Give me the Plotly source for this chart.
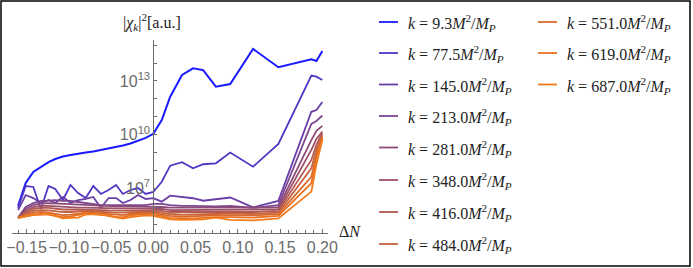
import numpy as np
import plotly.graph_objects as go

# ---------------- data ----------------
delta_N = [-0.160, -0.151, -0.142, -0.133, -0.124, -0.116, -0.107, -0.098, -0.089,
           -0.080, -0.071, -0.062, -0.053, -0.044, -0.036, -0.027, -0.018, -0.009,
           0.000, 0.010, 0.020, 0.034, 0.047, 0.059, 0.074, 0.091, 0.118, 0.148,
           0.187, 0.193, 0.200]

k_values = [9.3, 77.5, 145.0, 213.0, 281.0, 348.0, 416.0, 484.0, 551.0, 619.0, 687.0]

# log10 |chi_k|^2 for each k
log_chi_k9_3 = [6.02, 7.30, 7.92, 8.20, 8.47, 8.64, 8.78, 8.87, 8.95, 9.01, 9.06, 9.15, 9.20,
                9.31, 9.40, 9.51, 9.65, 9.82, 10.05, 10.82, 12.12, 13.34, 13.71, 13.61, 12.68,
                12.83, 14.79, 13.77, 14.21, 14.12, 14.68]
log_chi_k77_5 = [5.90, 7.13, 7.08, 5.85, 7.13, 6.97, 6.35, 7.19, 6.74, 6.46, 7.13, 6.69, 6.91,
                 7.19, 6.69, 6.91, 7.02, 6.69, 6.80, 7.37, 8.27, 8.46, 8.12, 8.35, 8.40, 9.00,
                 8.21, 9.48, 13.30, 13.24, 13.06]
log_chi_k145 = [5.79, 6.63, 6.46, 6.18, 6.35, 6.18, 6.52, 6.18, 6.35, 6.41, 6.52, 5.90, 6.46,
                6.46, 6.18, 6.35, 6.63, 6.41, 6.46, 6.26, 6.59, 6.50, 6.45, 6.31, 6.39, 6.49,
                5.94, 6.30, 11.28, 11.38, 11.83]
log_chi_k213 = [5.37, 5.96, 6.18, 6.30, 6.32, 6.35, 6.30, 6.30, 6.24, 6.18, 6.13, 6.07, 6.07,
                6.07, 6.07, 6.07, 6.07, 6.07, 6.13, 6.13, 6.07, 6.02, 6.02, 5.99, 5.99, 6.02,
                5.91, 6.07, 10.60, 10.77, 11.07]
log_chi_k281 = [5.35, 5.85, 6.07, 6.16, 6.18, 6.16, 6.13, 6.10, 6.07, 6.05, 6.02, 6.02, 5.99,
                5.99, 5.99, 5.99, 5.99, 5.99, 5.99, 5.96, 5.93, 5.93, 5.91, 5.91, 5.91, 5.91,
                5.91, 5.94, 9.70, 10.21, 10.49]
log_chi_k348 = [5.35, 5.74, 5.96, 6.02, 6.02, 5.99, 5.96, 5.96, 5.93, 5.93, 5.91, 5.91, 5.91,
                5.88, 5.88, 5.88, 5.88, 5.88, 5.88, 5.85, 5.79, 5.79, 5.79, 5.79, 5.79, 5.82,
                5.79, 5.83, 9.15, 9.76, 10.17]
log_chi_k416 = [5.35, 5.65, 5.85, 5.91, 5.91, 5.85, 5.82, 5.82, 5.82, 5.79, 5.79, 5.79, 5.77,
                5.77, 5.77, 5.77, 5.77, 5.77, 5.77, 5.74, 5.68, 5.68, 5.68, 5.68, 5.68, 5.71,
                5.68, 5.74, 8.59, 9.43, 10.08]
log_chi_k484 = [5.35, 5.57, 5.74, 5.79, 5.77, 5.71, 5.68, 5.68, 5.71, 5.74, 5.71, 5.68, 5.68,
                5.65, 5.65, 5.68, 5.68, 5.68, 5.68, 5.63, 5.57, 5.54, 5.54, 5.57, 5.57, 5.60,
                5.57, 5.64, 8.12, 9.15, 9.98]
log_chi_k551 = [5.35, 5.51, 5.63, 5.68, 5.65, 5.57, 5.51, 5.54, 5.60, 5.65, 5.63, 5.60, 5.57,
                5.51, 5.51, 5.57, 5.60, 5.60, 5.60, 5.54, 5.46, 5.43, 5.43, 5.46, 5.49, 5.51,
                5.49, 5.56, 7.65, 8.87, 9.89]
log_chi_k619 = [5.35, 5.46, 5.54, 5.57, 5.54, 5.46, 5.40, 5.43, 5.51, 5.60, 5.57, 5.54, 5.49,
                5.40, 5.40, 5.49, 5.54, 5.54, 5.51, 5.46, 5.35, 5.32, 5.32, 5.35, 5.40, 5.40,
                5.37, 5.46, 7.29, 8.59, 9.80]
log_chi_k687 = [5.35, 5.43, 5.51, 5.54, 5.57, 5.46, 5.33, 5.35, 5.37, 5.54, 5.57, 5.54, 5.46,
                5.35, 5.32, 5.40, 5.46, 5.49, 5.46, 5.35, 5.27, 5.24, 5.24, 5.27, 5.37, 5.24,
                5.21, 5.32, 6.82, 8.36, 9.70]

series_logs = [log_chi_k9_3, log_chi_k77_5, log_chi_k145, log_chi_k213, log_chi_k281,
               log_chi_k348, log_chi_k416, log_chi_k484, log_chi_k551, log_chi_k619,
               log_chi_k687]

colors = ["#1a1aff", "#5236c6", "#6a3ea8", "#7d4790", "#8c4a78", "#9e5066",
          "#b25a52", "#c4623f", "#d86a2e", "#e87222", "#f27a1a"]

x_tick_vals = [-0.15, -0.10, -0.05, 0.00, 0.05, 0.10, 0.15, 0.20]
x_tick_text = ["\u22120.15", "\u22120.10", "\u22120.05", "0.00", "0.05", "0.10", "0.15", "0.20"]
y_decades = list(range(5, 16))
y_labelled = [7, 10, 13]

# ---------------- layout geometry (pixels) ----------------
W, H = 693, 268
PL, PR, PT, PB = 12, 328, 40, 233  # plot area edges
X0_PX = 153.3                       # pixel of x = 0


def px_to_paper_x(px):
    return (px - PL) / (PR - PL)


def px_to_paper_y(py):
    return (PB - py) / (PB - PT)


fig = go.Figure()
for k, logs, col in zip(k_values, series_logs, colors):
    fig.add_trace(go.Scatter(
        x=delta_N, y=np.power(10.0, logs), mode="lines",
        line=dict(color=col, width=2.0 if k == k_values[0] else 1.8),
        showlegend=False, hoverinfo="skip"))

axis_col = "#6e6e6e"
tick_font = dict(family="Liberation Sans", size=16, color="#6b6b6b")

fig.update_layout(
    width=W, height=H,
    margin=dict(l=PL, r=W - PR, t=PT, b=H - PB, pad=0, autoexpand=False),
    paper_bgcolor="white", plot_bgcolor="white",
    xaxis=dict(range=[-0.1672, 0.2067], showline=True, linecolor=axis_col, linewidth=1,
               ticks="inside", ticklen=4, tickcolor=axis_col, tickwidth=1,
               tickvals=x_tick_vals, ticktext=x_tick_text, tickfont=tick_font,
               tickangle=0, automargin=False,
               minor=dict(dtick=0.01, tick0=0, ticks="inside", ticklen=3,
                          tickcolor=axis_col, tickwidth=1),
               showgrid=False, zeroline=False),
    yaxis=dict(type="log", range=[4.508, 15.29], anchor="free",
               position=px_to_paper_x(X0_PX), automargin=False,
               showline=True, linecolor=axis_col, linewidth=1,
               ticks="inside", ticklen=3, tickcolor=axis_col, tickwidth=1,
               tickvals=[10.0 ** d for d in y_decades],
               ticktext=[("10<sup>%d</sup>" % d) if d in y_labelled else "" for d in y_decades],
               tickfont=tick_font, showgrid=False, zeroline=False),
)

serif = "Liberation Serif"
annotations = [
    dict(text="|<i>\u03c7<sub>k</sub></i>|<sup>2</sup>[a.u.]", x=px_to_paper_x(152),
         y=px_to_paper_y(22), xref="paper", yref="paper", showarrow=False,
         font=dict(family=serif, size=16, color="#222"), xanchor="center", yanchor="middle"),
    dict(text="\u0394<i>N</i>", x=px_to_paper_x(337), y=px_to_paper_y(231),
         xref="paper", yref="paper", showarrow=False,
         font=dict(family=serif, size=16, color="#222"), xanchor="left", yanchor="middle"),
]
shapes = [dict(type="rect", xref="paper", yref="paper",
               x0=px_to_paper_x(1), x1=px_to_paper_x(690),
               y0=px_to_paper_y(266), y1=px_to_paper_y(1),
               line=dict(color="black", width=1.5), fillcolor="rgba(0,0,0,0)")]

# legend (two columns, column-major)
row_y = [23, 54, 85.5, 117, 148.5, 181, 213, 245]
col_line_x = [(379, 398), (538, 557)]
col_text_x = [406, 565]
for i, (k, col) in enumerate(zip(k_values, colors)):
    c = 0 if i < 8 else 1
    r = i if i < 8 else i - 8
    y = row_y[r]
    shapes.append(dict(type="line", xref="paper", yref="paper",
                       x0=px_to_paper_x(col_line_x[c][0]), x1=px_to_paper_x(col_line_x[c][1]),
                       y0=px_to_paper_y(y - 1), y1=px_to_paper_y(y - 1),
                       line=dict(color=col, width=1.8)))
    annotations.append(dict(
        text="<i>k</i> = %s<i>M</i><sup>2</sup>/<i>M</i><sub><i>P</i></sub>" % k,
        x=px_to_paper_x(col_text_x[c]), y=px_to_paper_y(y), xref="paper", yref="paper",
        showarrow=False, xanchor="left", yanchor="middle",
        font=dict(family=serif, size=16, color="#222")))

fig.update_layout(annotations=annotations, shapes=shapes)
fig.write_html("out.html", config={"displayModeBar": False},
               post_script="document.body.style.margin='0';document.body.style.padding='0';")
